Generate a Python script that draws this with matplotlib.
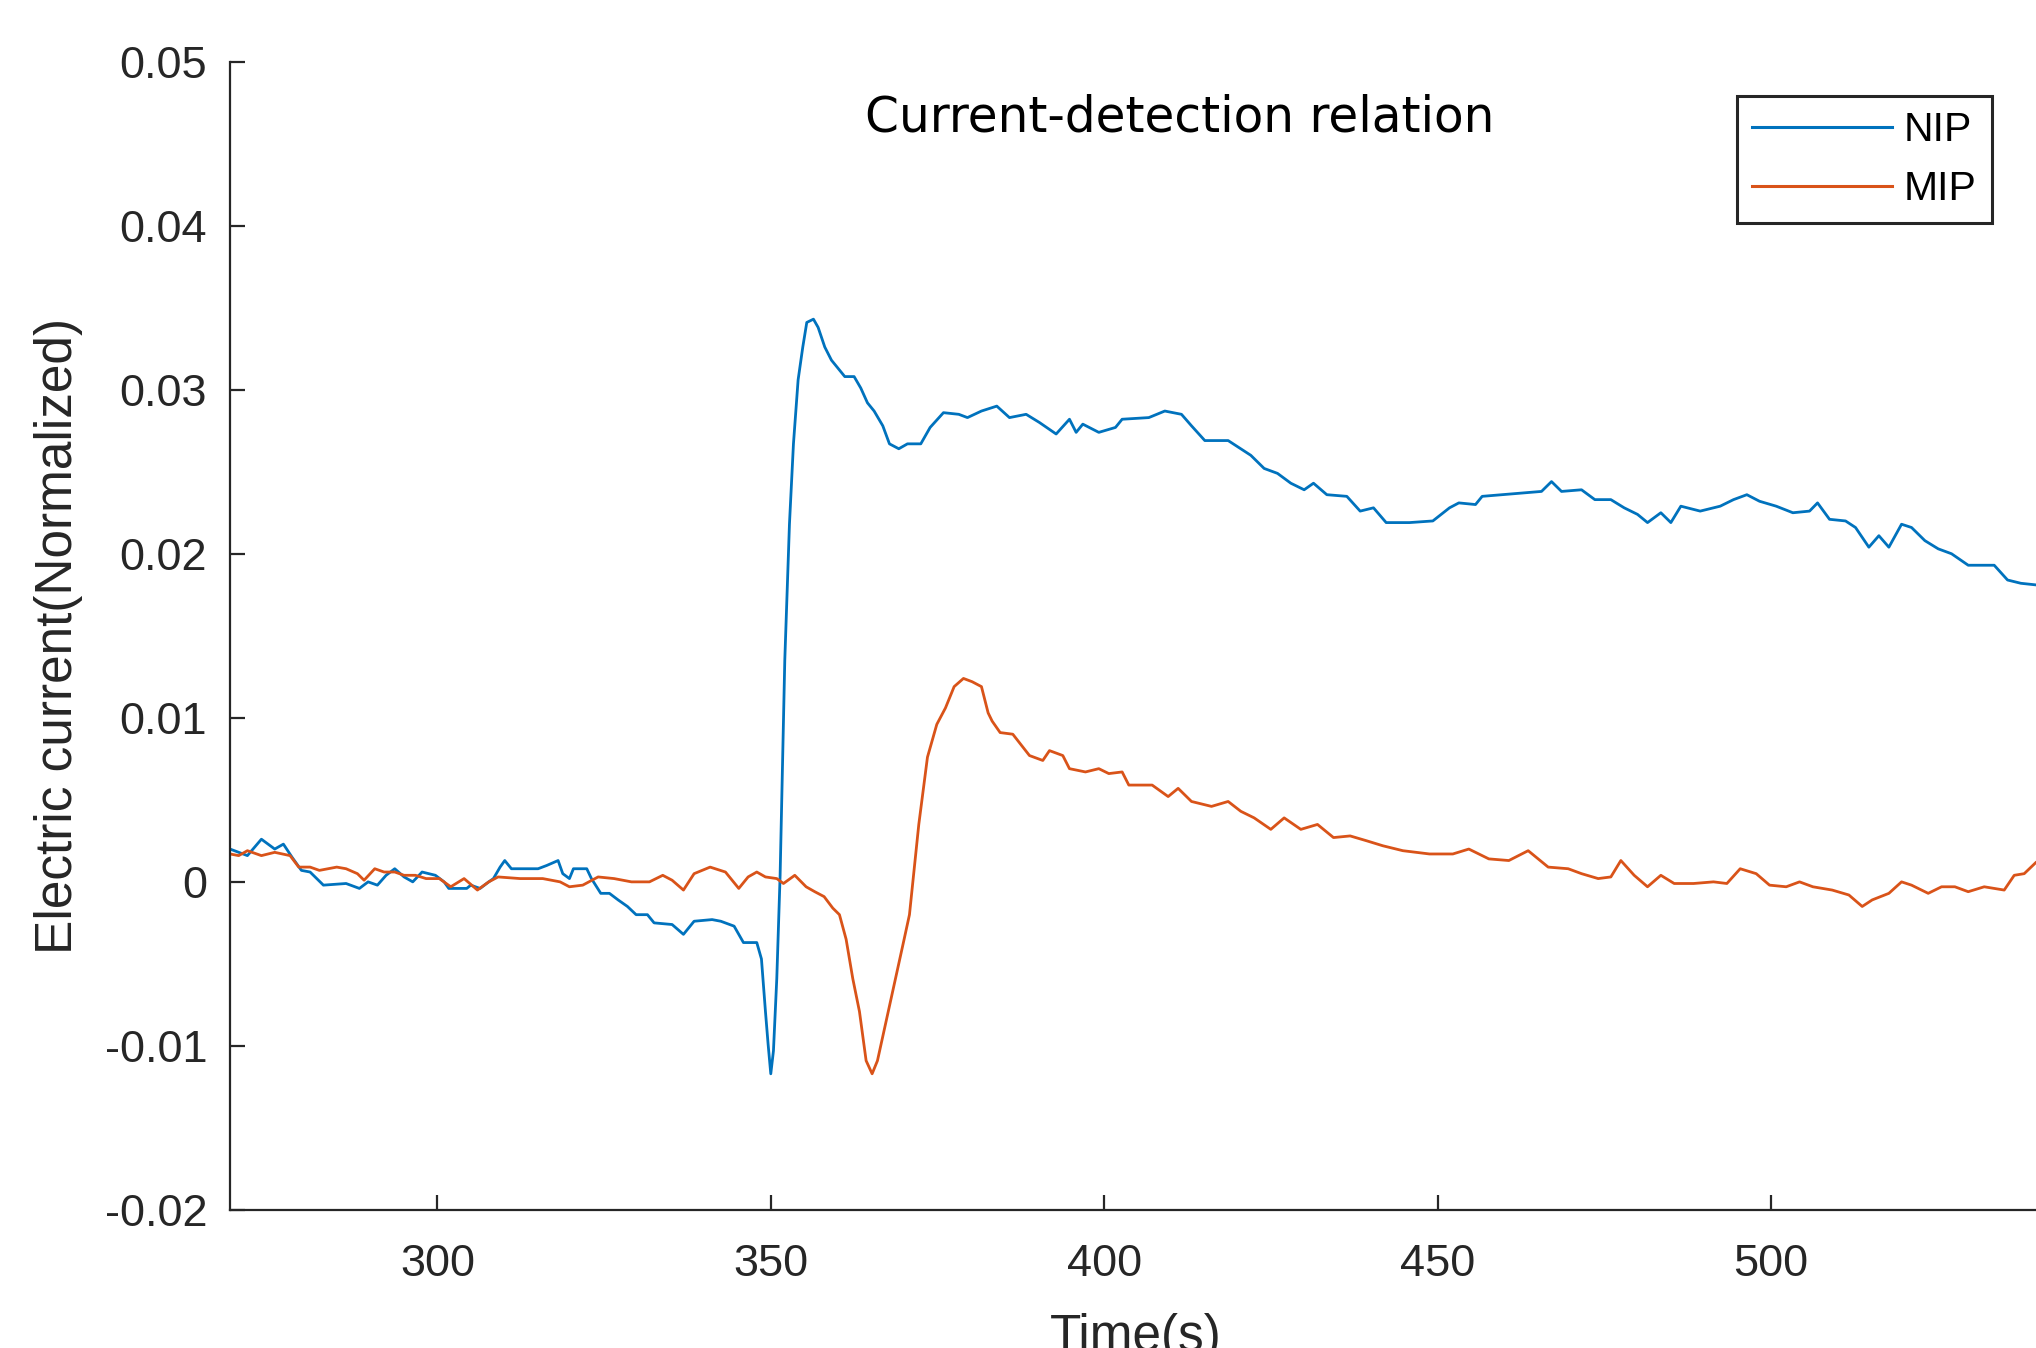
import matplotlib
matplotlib.use("Agg")
import matplotlib.pyplot as plt

# NIP trace (time in s, normalised current)
nip_t = [268.9, 271.5, 273.6, 275.6, 276.9, 278.2, 279.6, 280.9, 282.9,
         286.3, 288.3, 289.6, 291.0, 292.3, 293.6, 295.0, 296.3, 297.7, 299.7,
         301.0, 301.7, 304.4, 305.0, 306.4, 307.7, 308.4, 309.4, 310.1, 311.1,
         315.1, 316.4, 318.1, 318.8, 319.8, 320.4, 322.4, 323.1, 324.5, 325.8,
         327.1, 328.5, 329.8, 331.5, 332.5, 335.2, 336.9, 338.5, 341.2, 342.5,
         344.5, 345.9, 347.9, 348.6, 349.2, 349.6, 350.0, 350.4, 350.9, 351.4,
         352.1, 352.8, 353.4, 354.1, 354.8, 355.4, 356.4, 357.1, 358.1, 359.1,
         360.1, 361.1, 362.5, 363.5, 364.5, 365.5, 366.8, 367.8, 369.2, 370.5,
         372.5, 373.9, 375.9, 378.2, 379.5, 381.6, 383.9,
         385.8, 388.3, 390.3, 392.8, 394.8, 395.8, 396.8, 399.2, 401.7, 402.7,
         406.7, 409.1, 411.6, 413.1, 415.1, 418.6, 420.5, 422.0, 424.0, 426.0,
         428.0, 430.0, 431.4, 433.4, 436.4, 438.4, 440.4, 442.3, 445.8, 449.3,
         451.8, 453.2, 455.7, 456.7, 459.7, 462.7, 465.6, 467.1, 468.6, 471.6,
         473.6, 476.0, 478.0, 480.0, 481.5, 483.5, 485.0, 486.5, 489.4, 492.4,
         494.4, 496.4, 498.3, 500.8, 503.3, 505.8, 507.0, 508.8, 511.2, 512.7,
         514.7, 516.2, 517.7, 519.6, 521.1, 523.1, 525.1, 527.1, 529.6, 533.5,
         535.5, 537.5, 539.8, 540.5]
nip_v = [0.0020, 0.0016, 0.0026, 0.0020, 0.0023, 0.0015, 0.0007, 0.0006, -0.0002,
         -0.0001, -0.0004, 0.0000, -0.0002, 0.0004, 0.0008, 0.0003, 0.0000, 0.0006,
         0.0004, 0.0000, -0.0004, -0.0004, -0.0002, -0.0004, 0.0000, 0.0002, 0.0009,
         0.0013, 0.0008, 0.0008, 0.0010, 0.0013, 0.0005, 0.0002, 0.0008, 0.0008,
         0.0002, -0.0007, -0.0007, -0.0011, -0.0015, -0.0020, -0.0020, -0.0025,
         -0.0026, -0.0032, -0.0024, -0.0023, -0.0024, -0.0027, -0.0037, -0.0037,
         -0.0047, -0.0079, -0.0099, -0.0117, -0.0103, -0.0059, 0.0004,
         0.0135, 0.0218, 0.0267, 0.0306, 0.0326, 0.0341, 0.0343, 0.0338, 0.0326,
         0.0318, 0.0313, 0.0308, 0.0308, 0.0301, 0.0292, 0.0287, 0.0278, 0.0267,
         0.0264, 0.0267, 0.0267, 0.0277, 0.0286, 0.0285, 0.0283, 0.0287, 0.0290,
         0.0283, 0.0285, 0.0280, 0.0273, 0.0282, 0.0274, 0.0279, 0.0274, 0.0277,
         0.0282, 0.0283, 0.0287, 0.0285, 0.0278, 0.0269, 0.0269, 0.0264, 0.0260,
         0.0252, 0.0249, 0.0243, 0.0239, 0.0243, 0.0236, 0.0235, 0.0226, 0.0228,
         0.0219, 0.0219, 0.0220, 0.0228, 0.0231, 0.0230, 0.0235, 0.0236, 0.0237,
         0.0238, 0.0244, 0.0238, 0.0239, 0.0233, 0.0233, 0.0228, 0.0224, 0.0219,
         0.0225, 0.0219, 0.0229, 0.0226, 0.0229, 0.0233, 0.0236, 0.0232, 0.0229,
         0.0225, 0.0226, 0.0231, 0.0221, 0.0220, 0.0216, 0.0204, 0.0211, 0.0204,
         0.0218, 0.0216, 0.0208, 0.0203, 0.0200, 0.0193, 0.0193, 0.0184, 0.0182,
         0.0181, 0.0180]

# MIP trace
mip_t = [268.9, 270.2, 271.5, 273.6, 275.6, 277.9, 279.2, 280.9, 282.3, 284.9,
         286.3, 288.0, 289.0, 290.6, 292.0, 293.6, 295.0, 296.7, 298.3, 300.3,
         302.0, 304.0, 306.0, 307.7, 309.1, 312.4, 315.8, 318.4, 319.8, 321.8,
         324.1, 326.5, 329.1, 331.8, 333.8, 335.2, 336.9, 338.5, 340.9, 343.2,
         345.2, 346.6, 347.9, 349.2, 350.9, 351.9, 353.6, 355.3, 356.6, 358.0,
         359.3, 360.3, 361.3, 362.3, 363.3, 364.3, 365.2, 366.0, 367.3, 368.7,
         370.0, 370.8, 372.2, 373.5, 374.9, 376.2, 377.5, 378.9, 380.2, 381.6,
         382.6, 383.2,
         384.4, 386.3, 388.8, 390.8, 391.8, 393.8, 394.8, 397.2, 399.2, 400.7,
         402.7, 403.7, 407.2, 409.6, 411.1, 413.1, 416.1, 418.6, 420.5, 422.5,
         425.0, 427.0, 429.5, 432.0, 434.4, 436.9, 439.4, 441.8, 444.8, 448.8,
         452.3, 454.7, 457.7, 460.7, 463.6, 466.6, 469.6, 471.6, 474.1, 476.0,
         477.5, 479.5, 481.5, 483.5, 485.5, 488.4, 491.4, 493.4, 495.4, 497.8,
         499.8, 502.3, 504.3, 506.3, 509.2, 511.7, 513.7, 515.2, 517.7, 519.6,
         521.1, 523.6, 525.6, 527.6, 529.6, 532.0, 535.0, 536.5, 538.0, 539.8,
         540.5]
mip_v = [0.0017, 0.0016, 0.0019, 0.0016, 0.0018, 0.0016, 0.0009, 0.0009, 0.0007,
         0.0009, 0.0008, 0.0005, 0.0001, 0.0008, 0.0006, 0.0006, 0.0004, 0.0004,
         0.0002, 0.0002, -0.0003, 0.0002, -0.0005, 0.0000, 0.0003, 0.0002, 0.0002,
         0.0000, -0.0003, -0.0002, 0.0003, 0.0002, 0.0000, 0.0000, 0.0004, 0.0001,
         -0.0005, 0.0005, 0.0009, 0.0006, -0.0004, 0.0003, 0.0006, 0.0003, 0.0002,
         -0.0001, 0.0004, -0.0003, -0.0006, -0.0009, -0.0016, -0.0020, -0.0035,
         -0.0059, -0.0079, -0.0109, -0.0117, -0.0109, -0.0085, -0.0059, -0.0035,
         -0.0020, 0.0035, 0.0076, 0.0096, 0.0106, 0.0119, 0.0124, 0.0122, 0.0119,
         0.0103, 0.0098,
         0.0091, 0.0090, 0.0077, 0.0074, 0.0080, 0.0077, 0.0069, 0.0067, 0.0069,
         0.0066, 0.0067, 0.0059, 0.0059, 0.0052, 0.0057, 0.0049, 0.0046, 0.0049,
         0.0043, 0.0039, 0.0032, 0.0039, 0.0032, 0.0035, 0.0027, 0.0028, 0.0025,
         0.0022, 0.0019, 0.0017, 0.0017, 0.0020, 0.0014, 0.0013, 0.0019, 0.0009,
         0.0008, 0.0005, 0.0002, 0.0003, 0.0013, 0.0004, -0.0003, 0.0004, -0.0001,
         -0.0001, 0.0000, -0.0001, 0.0008, 0.0005, -0.0002, -0.0003, 0.0000,
         -0.0003, -0.0005, -0.0008, -0.0015, -0.0011, -0.0007, 0.0000, -0.0002,
         -0.0007, -0.0003, -0.0003, -0.0006, -0.0003, -0.0005, 0.0004, 0.0005,
         0.0012, 0.0013]

x_ticks = [300, 350, 400, 450, 500]
y_ticks = [-0.02, -0.01, 0, 0.01, 0.02, 0.03, 0.04, 0.05]
y_labels = ["-0.02", "-0.01", "0", "0.01", "0.02", "0.03", "0.04", "0.05"]

ink = "#262626"
plt.rcParams["font.family"] = ["Liberation Sans", "DejaVu Sans"]

fig = plt.figure(figsize=(20.36, 13.48), dpi=100)
ax = fig.add_axes([0.1130, 0.1024, 0.8894, 0.8519])

ax.plot(nip_t, nip_v, color="#0072BD", lw=2.0, label="NIP")
ax.plot(mip_t, mip_v, color="#D95319", lw=2.0, label="MIP")

ax.set_xlim(268.9, 540.5)
ax.set_ylim(-0.02, 0.05)
ax.set_xticks(x_ticks)
ax.set_yticks(y_ticks)
ax.set_yticklabels(y_labels)

for side in ["top", "right"]:
    ax.spines[side].set_visible(False)
for side in ["left", "bottom"]:
    ax.spines[side].set_color(ink)
    ax.spines[side].set_linewidth(1.6)
ax.tick_params(axis="both", direction="in", length=11, width=1.6, color=ink,
               labelcolor=ink, labelsize=32.5)
ax.tick_params(axis="x", pad=24.5)
ax.tick_params(axis="y", pad=16.5)

fig.text(0.5796, 0.9132, "Current-detection relation", ha="center", va="center",
         fontsize=35, family="DejaVu Sans", color="black")
fig.text(0.0285, 0.528, "Electric current(Normalized)", rotation=90,
         ha="center", va="center", fontsize=37, color=ink)
fig.text(0.558, -0.0025, "Time(s)", ha="center", va="baseline", fontsize=37,
         color=ink)

leg = ax.legend(loc="upper right", bbox_to_anchor=(1992 / 2036, 1 - 95.7 / 1348),
                bbox_transform=fig.transFigure, fontsize=29.5, handlelength=3.4,
                handletextpad=0.3, borderpad=0.37, labelspacing=0.52,
                borderaxespad=0, fancybox=False, framealpha=1)
leg.get_frame().set_edgecolor(ink)
leg.get_frame().set_linewidth(2.2)
for line in leg.get_lines():
    line.set_linewidth(2.2)

fig.savefig("out.png", dpi=100)
